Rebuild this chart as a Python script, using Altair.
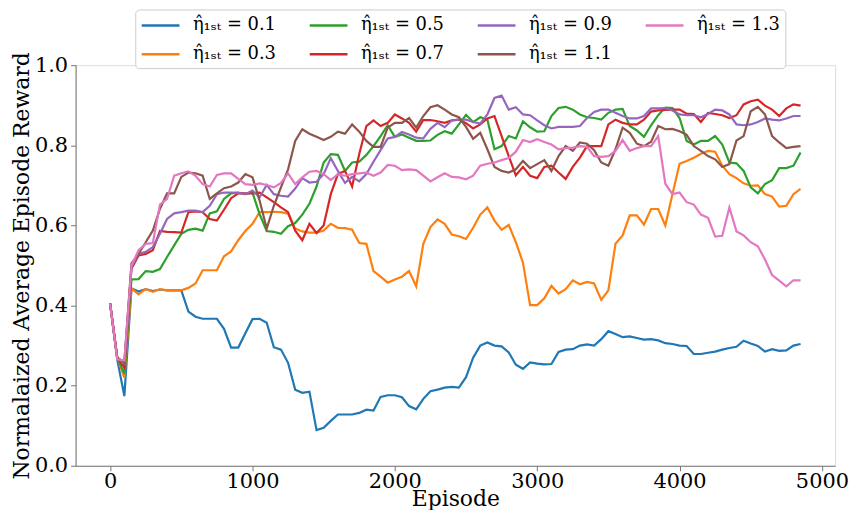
import altair as alt
import pandas as pd

episodes = list(range(0, 4851, 50))

labels = ["η̂₁ₛₜ = 0.1", "η̂₁ₛₜ = 0.3", "η̂₁ₛₜ = 0.5", "η̂₁ₛₜ = 0.7",
          "η̂₁ₛₜ = 0.9", "η̂₁ₛₜ = 1.1", "η̂₁ₛₜ = 1.3"]
colors = ["#1f77b4", "#ff7f0e", "#2ca02c", "#d62728", "#9467bd", "#8c564b", "#e377c2"]

eta_01 = [0.405, 0.265, 0.174, 0.443, 0.435, 0.441, 0.436, 0.440, 0.438, 0.438,
          0.438, 0.385, 0.372, 0.367, 0.367, 0.367, 0.342, 0.295, 0.295, 0.331,
          0.366, 0.367, 0.357, 0.296, 0.290, 0.257, 0.190, 0.182, 0.185, 0.089,
          0.095, 0.112, 0.128, 0.128, 0.128, 0.132, 0.140, 0.138, 0.172, 0.176,
          0.176, 0.171, 0.149, 0.141, 0.167, 0.186, 0.190, 0.195, 0.197, 0.195,
          0.221, 0.270, 0.300, 0.308, 0.300, 0.298, 0.283, 0.252, 0.242, 0.258,
          0.255, 0.253, 0.254, 0.284, 0.290, 0.291, 0.300, 0.303, 0.300, 0.316,
          0.336, 0.329, 0.321, 0.323, 0.319, 0.315, 0.316, 0.313, 0.306, 0.304,
          0.300, 0.299, 0.279, 0.279, 0.282, 0.285, 0.290, 0.294, 0.297, 0.312,
          0.305, 0.299, 0.285, 0.291, 0.287, 0.288, 0.300, 0.304]

eta_03 = [0.405, 0.270, 0.220, 0.443, 0.428, 0.441, 0.434, 0.441, 0.438, 0.438,
          0.438, 0.444, 0.455, 0.488, 0.488, 0.488, 0.523, 0.535, 0.563, 0.586,
          0.604, 0.633, 0.633, 0.634, 0.633, 0.629, 0.592, 0.585, 0.582, 0.582,
          0.587, 0.604, 0.594, 0.593, 0.589, 0.556, 0.554, 0.486, 0.472, 0.457,
          0.465, 0.472, 0.486, 0.448, 0.554, 0.596, 0.615, 0.604, 0.577, 0.573,
          0.566, 0.594, 0.627, 0.645, 0.612, 0.589, 0.601, 0.558, 0.507, 0.401,
          0.401, 0.418, 0.449, 0.430, 0.441, 0.463, 0.453, 0.459, 0.455, 0.414,
          0.438, 0.554, 0.575, 0.625, 0.625, 0.602, 0.641, 0.641, 0.600, 0.678,
          0.754, 0.761, 0.769, 0.779, 0.786, 0.784, 0.749, 0.728, 0.718, 0.705,
          0.699, 0.700, 0.678, 0.672, 0.647, 0.649, 0.678, 0.691]

eta_05 = [0.405, 0.270, 0.230, 0.465, 0.466, 0.486, 0.484, 0.491, 0.521, 0.550,
          0.579, 0.589, 0.592, 0.587, 0.630, 0.635, 0.666, 0.680, 0.682, 0.678,
          0.682, 0.628, 0.586, 0.584, 0.579, 0.598, 0.606, 0.627, 0.654, 0.697,
          0.757, 0.778, 0.776, 0.736, 0.757, 0.759, 0.776, 0.798, 0.823, 0.850,
          0.821, 0.827, 0.819, 0.811, 0.811, 0.812, 0.826, 0.835, 0.829, 0.852,
          0.876, 0.858, 0.870, 0.864, 0.790, 0.798, 0.823, 0.817, 0.860, 0.845,
          0.834, 0.835, 0.873, 0.893, 0.896, 0.889, 0.877, 0.870, 0.868, 0.864,
          0.881, 0.889, 0.891, 0.848, 0.837, 0.821, 0.850, 0.875, 0.894, 0.893,
          0.868, 0.811, 0.802, 0.811, 0.811, 0.823, 0.802, 0.757, 0.755, 0.736,
          0.695, 0.680, 0.703, 0.713, 0.743, 0.743, 0.749, 0.782]

eta_07 = [0.405, 0.270, 0.245, 0.492, 0.525, 0.529, 0.538, 0.586, 0.584, 0.583,
          0.582, 0.633, 0.635, 0.633, 0.616, 0.612, 0.639, 0.668, 0.680, 0.680,
          0.680, 0.682, 0.670, 0.658, 0.645, 0.633, 0.587, 0.563, 0.604, 0.581,
          0.600, 0.678, 0.728, 0.736, 0.697, 0.778, 0.848, 0.862, 0.848, 0.856,
          0.877, 0.867, 0.856, 0.834, 0.863, 0.863, 0.860, 0.856, 0.862, 0.864,
          0.855, 0.842, 0.852, 0.867, 0.873, 0.823, 0.773, 0.725, 0.746, 0.724,
          0.718, 0.746, 0.749, 0.732, 0.716, 0.746, 0.769, 0.798, 0.798, 0.798,
          0.852, 0.864, 0.856, 0.852, 0.852, 0.864, 0.884, 0.887, 0.888, 0.889,
          0.889, 0.879, 0.878, 0.858, 0.881, 0.878, 0.875, 0.868, 0.875, 0.902,
          0.910, 0.914, 0.899, 0.889, 0.873, 0.892, 0.902, 0.899]

eta_09 = [0.405, 0.270, 0.255, 0.496, 0.529, 0.534, 0.546, 0.579, 0.616, 0.630,
          0.633, 0.637, 0.637, 0.633, 0.649, 0.678, 0.682, 0.682, 0.681, 0.678,
          0.687, 0.670, 0.701, 0.678, 0.674, 0.672, 0.692, 0.718, 0.707, 0.709,
          0.728, 0.768, 0.736, 0.706, 0.721, 0.710, 0.728, 0.759, 0.788, 0.817,
          0.821, 0.833, 0.827, 0.819, 0.817, 0.841, 0.856, 0.845, 0.862, 0.864,
          0.864, 0.858, 0.854, 0.877, 0.918, 0.924, 0.889, 0.895, 0.877, 0.875,
          0.862, 0.850, 0.842, 0.846, 0.846, 0.846, 0.848, 0.868, 0.883, 0.889,
          0.889, 0.881, 0.873, 0.867, 0.867, 0.873, 0.892, 0.892, 0.893, 0.887,
          0.877, 0.875, 0.875, 0.870, 0.878, 0.889, 0.887, 0.877, 0.852, 0.850,
          0.852, 0.858, 0.867, 0.864, 0.862, 0.867, 0.873, 0.873]

eta_11 = [0.405, 0.270, 0.258, 0.505, 0.529, 0.558, 0.587, 0.641, 0.680, 0.680,
          0.721, 0.732, 0.730, 0.724, 0.666, 0.680, 0.693, 0.697, 0.707, 0.728,
          0.720, 0.662, 0.592, 0.649, 0.695, 0.740, 0.811, 0.840, 0.829, 0.821,
          0.813, 0.821, 0.834, 0.829, 0.852, 0.834, 0.811, 0.796, 0.796, 0.844,
          0.856, 0.856, 0.868, 0.844, 0.873, 0.895, 0.900, 0.889, 0.877, 0.870,
          0.846, 0.816, 0.831, 0.790, 0.746, 0.736, 0.732, 0.740, 0.761, 0.743,
          0.753, 0.763, 0.736, 0.773, 0.798, 0.786, 0.807, 0.804, 0.788, 0.757,
          0.749, 0.790, 0.844, 0.831, 0.804, 0.798, 0.809, 0.848, 0.840, 0.841,
          0.835, 0.826, 0.798, 0.786, 0.773, 0.765, 0.746, 0.753, 0.812, 0.823,
          0.885, 0.896, 0.877, 0.823, 0.807, 0.793, 0.796, 0.798]

eta_13 = [0.404, 0.266, 0.263, 0.500, 0.538, 0.554, 0.556, 0.652, 0.666, 0.724,
          0.730, 0.735, 0.724, 0.703, 0.697, 0.726, 0.730, 0.730, 0.716, 0.703,
          0.701, 0.705, 0.701, 0.695, 0.706, 0.730, 0.703, 0.720, 0.734, 0.736,
          0.728, 0.713, 0.728, 0.724, 0.728, 0.730, 0.732, 0.724, 0.732, 0.751,
          0.749, 0.738, 0.740, 0.738, 0.724, 0.710, 0.720, 0.730, 0.721, 0.720,
          0.715, 0.724, 0.749, 0.754, 0.757, 0.763, 0.768, 0.784, 0.813, 0.808,
          0.815, 0.808, 0.802, 0.790, 0.793, 0.794, 0.798, 0.796, 0.773, 0.771,
          0.773, 0.786, 0.813, 0.786, 0.793, 0.798, 0.798, 0.823, 0.704, 0.678,
          0.682, 0.658, 0.652, 0.627, 0.619, 0.572, 0.574, 0.645, 0.585, 0.575,
          0.558, 0.548, 0.515, 0.476, 0.462, 0.448, 0.463, 0.463]

series = [eta_01, eta_03, eta_05, eta_07, eta_09, eta_11, eta_13]

rows = []
for k, (lab, vals) in enumerate(zip(labels, series)):
    for ep, v in zip(episodes, vals):
        rows.append({"Episode": ep, "Reward": v, "setting": lab, "order": k})
df = pd.DataFrame(rows)

axis_common = dict(
    labelFont="DejaVu Serif", labelFontSize=21, labelColor="black",
    titleFont="DejaVu Serif", titleFontSize=22, titleFontWeight="normal", titleColor="black",
    domainColor="#777777", tickColor="#777777", tickSize=5, grid=False,
)

chart = alt.Chart(df).mark_line(strokeWidth=2.2).encode(
    x=alt.X("Episode:Q",
            scale=alt.Scale(domain=[-242.5, 5092.5], nice=False, zero=False),
            axis=alt.Axis(values=[0, 1000, 2000, 3000, 4000, 5000], format="d",
                          labelPadding=0, title="Episode",
                          titleY=40, titleBaseline="alphabetic", **axis_common)),
    y=alt.Y("Reward:Q",
            scale=alt.Scale(domain=[0, 1], nice=False),
            axis=alt.Axis(values=[0, 0.2, 0.4, 0.6, 0.8, 1.0], format=".1f",
                          labelPadding=3,
                          title="Normalaized Average Episode Reward",
                          titleX=-54, titleBaseline="middle", **axis_common)),
    color=alt.Color("setting:N",
                    scale=alt.Scale(domain=labels, range=colors),
                    legend=alt.Legend(
                        title=None, orient="none", legendX=60, legendY=-56,
                        columns=4, symbolType="M-1,0H3", symbolSize=361,
                        symbolStrokeWidth=2.5, labelFont="DejaVu Serif",
                        labelFontSize=18, labelColor="black", labelOffset=31,
                        columnPadding=28, rowPadding=9, padding=5,
                        fillColor="white", strokeColor="#cccccc", cornerRadius=4,
                        labelLimit=200)),
    order=alt.Order("order:Q"),
).properties(
    width=764, height=403,
    autosize=alt.AutoSizeParams(type="none"),
    padding={"left": 68, "top": 56, "right": 14, "bottom": 43},
).configure_view(
    stroke="#777777", strokeWidth=1
).configure(background="white")

chart.save("out.html", embed_options={"renderer": "svg", "actions": False})
